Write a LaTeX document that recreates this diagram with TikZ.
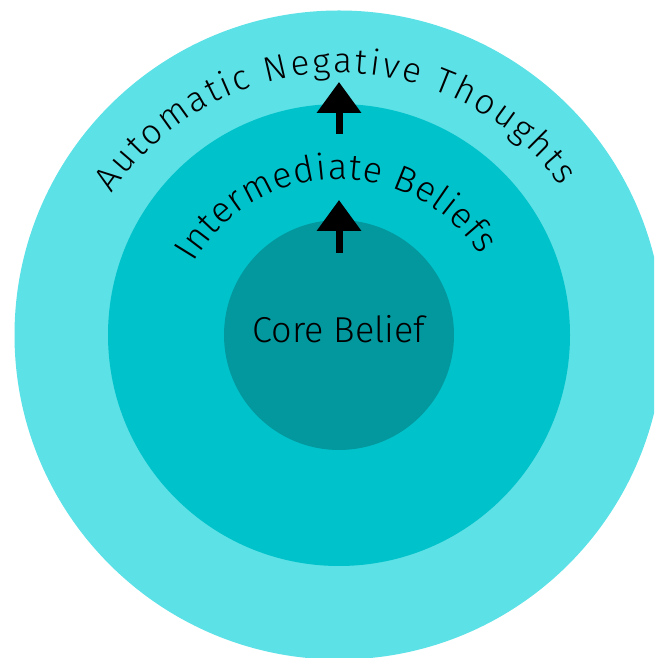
\documentclass[tikz,border=0pt]{standalone}
\usepackage{fontspec}
\setmainfont{Fira Sans}[UprightFont = * Light]
\usetikzlibrary{arrows.meta,decorations.text}
\definecolor{ringout}{HTML}{5CE1E6}
\definecolor{ringmid}{HTML}{00C2CB}
\definecolor{ringcore}{HTML}{03989E}
\tikzset{
  ring/.style = {circle, inner sep = 0pt, draw = none},
  uparrow/.style = {line width = 7pt, -{Triangle[length = 31pt, width = 43pt]}},
  arclabel/.style = {decorate, decoration = {text along path, text align = fit to path, text = {#1}}}
}

\begin{document}
\begin{tikzpicture}[x = 1pt, y = 1pt]
\useasboundingbox (0,0) rectangle (654,658);
\clip (0,0) rectangle (654,658);
\coordinate (c) at (339,323);
\node[ring, fill = ringout, minimum size = 649pt] (outer) at (c) {};
\node[ring, fill = ringmid, minimum size = 462pt] (mid) at (c) {};
\node[ring, fill = ringcore, minimum size = 230pt] (core) at (c) {};
\node[anchor = base, font = \fontsize{36}{40}\selectfont] (corelabel) at (339,315) {Core Belief};
% curved labels
\path[arclabel = {|\fontsize{35}{38}\selectfont|Automatic Negative Thoughts}] (339,311) ++(146:274) arc[start angle = 146, end angle = 36, radius = 274];
\path[arclabel = {|\fontsize{36}{40}\selectfont|Intermediate Beliefs}] (339,311) ++(150:168) arc[start angle = 150, end angle = 33, radius = 168];
% arrows
\coordinate (tail1) at (339,524);
\coordinate (tip1) at (339,576);
\coordinate (tail2) at (339,405);
\coordinate (tip2) at (339,458);
\draw[uparrow] (tail1) -- (tip1);
\draw[uparrow] (tail2) -- (tip2);
\end{tikzpicture}
\end{document}
